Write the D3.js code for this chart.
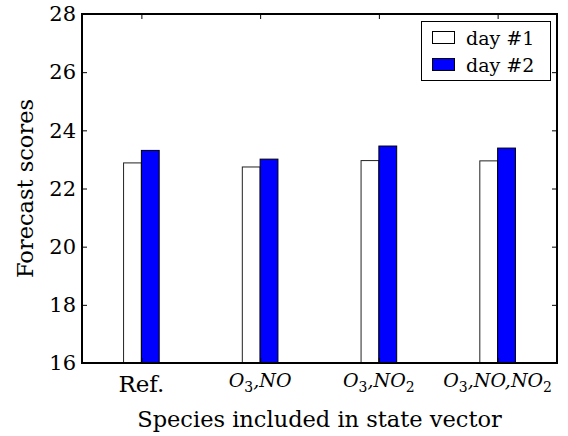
<!DOCTYPE html>
<html>
<head>
<meta charset="utf-8">
<script src="https://cdn.jsdelivr.net/npm/d3@7"></script>
<style>
  html, body { margin: 0; padding: 0; background: #fff; }
  svg { display: block; }
  text { font-family: "DejaVu Serif", serif; fill: #000; }
</style>
</head>
<body>
<svg id="chart" width="568" height="436"></svg>
<script>
// ---- data ----
const categories = ["Ref.", "O_3,NO", "O_3,NO_2", "O_3,NO,NO_2"];
const seriesNames = ["day #1", "day #2"];
const day1 = [22.88, 22.74, 22.96, 22.95];
const day2 = [23.31, 23.01, 23.46, 23.39];
const yTicks = [16, 18, 20, 22, 24, 26, 28];

// ---- layout ----
const svg = d3.select("#chart");
const L = 82, R = 557, T = 14, B = 363;
const x = d3.scaleLinear().domain([-0.5, 3.5]).range([L, R]);
const y = d3.scaleLinear().domain([16, 28]).range([B, T]);
const barW = 0.15;

// bars
const g = svg.append("g");
g.selectAll("rect.d1").data(day1).join("rect")
  .attr("class", "d1")
  .attr("x", (d, i) => x(i - barW))
  .attr("width", x(barW) - x(0))
  .attr("y", d => y(d))
  .attr("height", d => B - y(d))
  .attr("fill", "#ffffff").attr("stroke", "#222").attr("stroke-width", 1);
g.selectAll("rect.d2").data(day2).join("rect")
  .attr("class", "d2")
  .attr("x", (d, i) => x(i))
  .attr("width", x(barW) - x(0))
  .attr("y", d => y(d))
  .attr("height", d => B - y(d))
  .attr("fill", "#0000ff").attr("stroke", "#000").attr("stroke-width", 1);

// ticks (inward, all sides)
const tl = 5;
const tickIdx = d3.range(categories.length);
const axL = d3.axisLeft(y).tickValues(yTicks).tickSize(-tl).tickPadding(6).tickFormat(d3.format("d"));
const gL = svg.append("g").attr("transform", `translate(${L},0)`).call(axL);
const axR = d3.axisRight(y).tickValues(yTicks).tickSize(-tl).tickFormat("");
const gR = svg.append("g").attr("transform", `translate(${R},0)`).call(axR);
const axB = d3.axisBottom(x).tickValues(tickIdx).tickSize(-tl).tickFormat("");
const gB = svg.append("g").attr("transform", `translate(0,${B})`).call(axB);
const axT = d3.axisTop(x).tickValues(tickIdx).tickSize(-tl).tickFormat("");
const gT = svg.append("g").attr("transform", `translate(0,${T})`).call(axT);
[gL, gR, gB, gT].forEach(a => {
  a.select(".domain").remove();
  a.selectAll(".tick line").attr("stroke", "#000").attr("stroke-width", 1);
});
gL.selectAll(".tick text")
  .style("font-family", "DejaVu Serif").style("font-size", "21px").attr("fill", "#000");

// frame
svg.append("rect").attr("x", L).attr("y", T).attr("width", R - L).attr("height", B - T)
  .attr("fill", "none").attr("stroke", "#000").attr("stroke-width", 2);

// x tick labels (with subscripts)
tickIdx.forEach(i => {
  const lab = categories[i];
  const t = svg.append("text")
    .attr("x", x(i))
    .attr("text-anchor", "middle");
  if (lab.indexOf("_") < 0) {
    t.style("font-size", "23px").attr("y", B + 29).text(lab);
  } else {
    t.style("font-size", "19px").style("font-style", "italic").attr("y", B + 24);
    const parts = lab.split(/(_\d)/).filter(s => s.length);
    let shift = 0;
    parts.forEach(p => {
      if (p[0] === "_") {
        t.append("tspan").attr("dy", 5).style("font-size", "14px").style("font-style", "normal").text(p.slice(1));
        shift = -5;
      } else {
        t.append("tspan").attr("dy", shift).text(p);
        shift = 0;
      }
    });
  }
});

// axis labels
svg.append("text").attr("x", (L + R) / 2).attr("y", 427)
  .attr("text-anchor", "middle").style("font-size", "22.5px")
  .text("Species included in state vector");
svg.append("text")
  .attr("transform", `translate(33,${(T + B) / 2}) rotate(-90)`)
  .attr("text-anchor", "middle").style("font-size", "22.5px")
  .text("Forecast scores");

// legend
const lg = svg.append("g");
lg.append("rect").attr("x", 421.5).attr("y", 21.5).attr("width", 129).attr("height", 59)
  .attr("fill", "#fff").attr("stroke", "#000").attr("stroke-width", 1);
const fills = ["#ffffff", "#0000ff"];
seriesNames.forEach((n, i) => {
  const yy = 31.5 + i * 27;
  lg.append("rect").attr("x", 432.5).attr("y", yy).attr("width", 22).attr("height", 12)
    .attr("fill", fills[i]).attr("stroke", "#000").attr("stroke-width", 1);
  lg.append("text").attr("x", 466).attr("y", yy + 13).style("font-size", "19px").text(n);
});
</script>
</body>
</html>
